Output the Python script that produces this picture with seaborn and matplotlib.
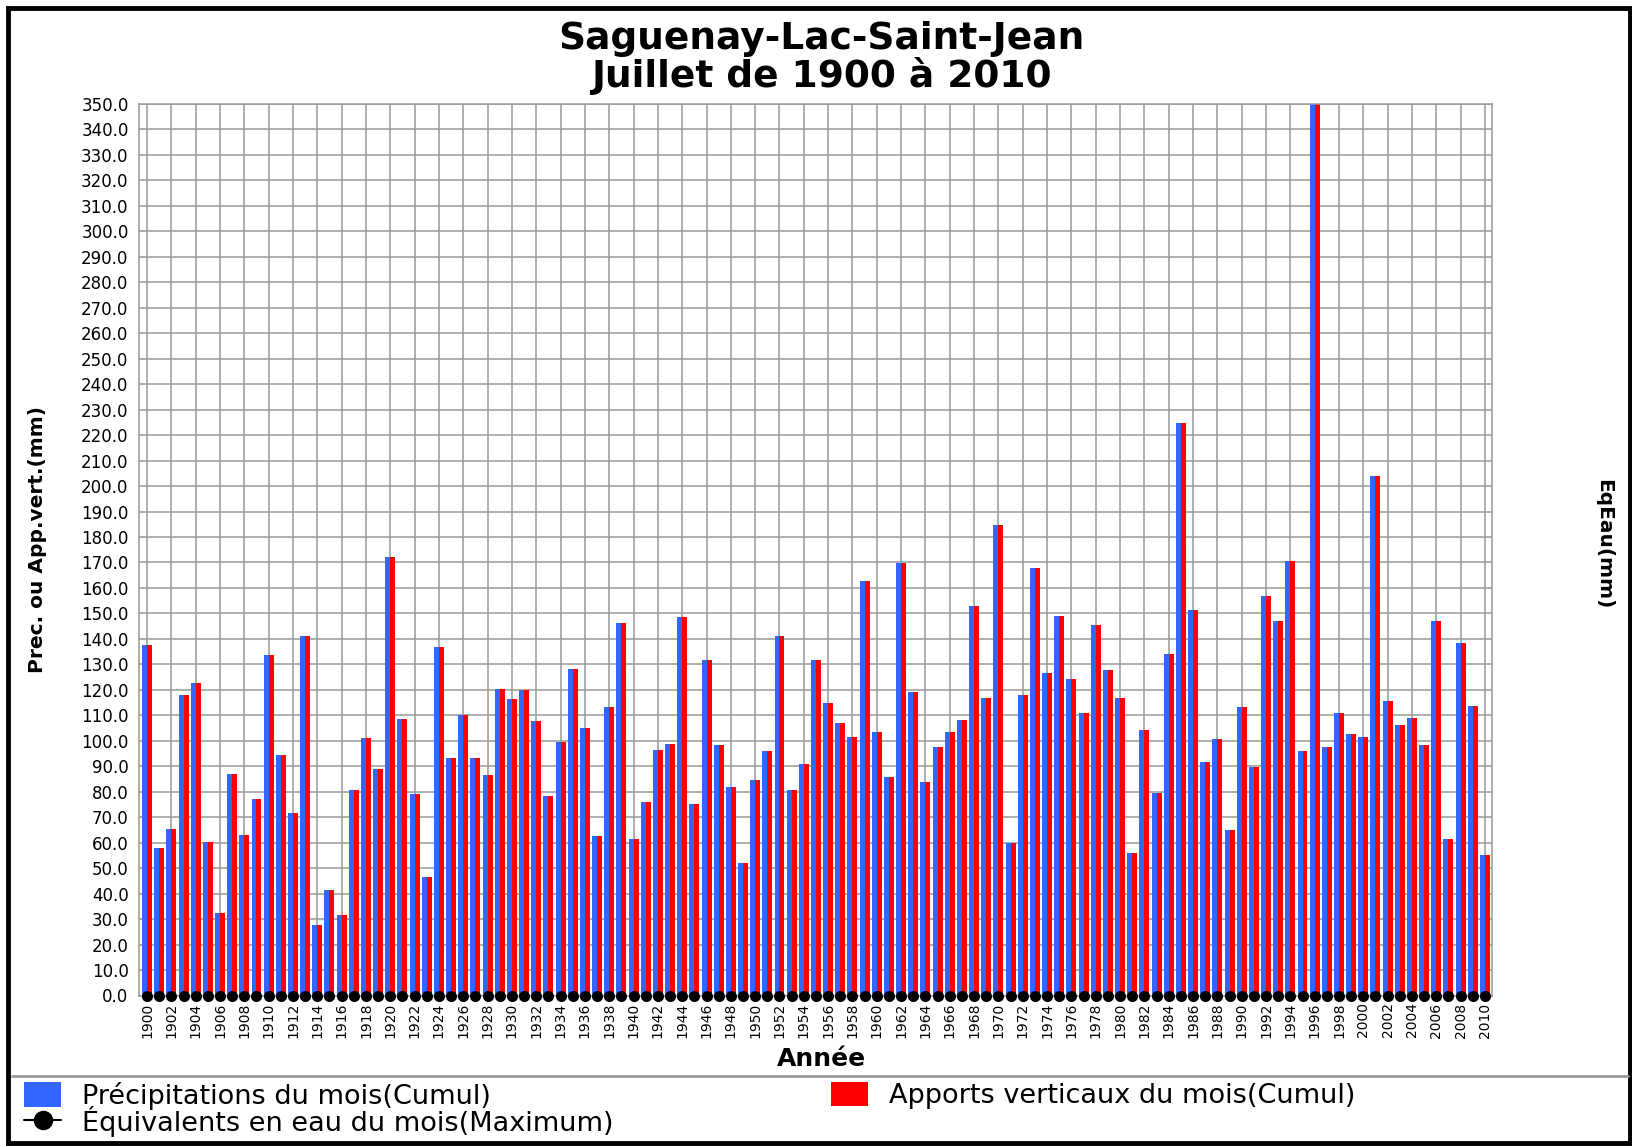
import matplotlib
matplotlib.use("Agg")
import matplotlib.pyplot as plt
from matplotlib.patches import Patch, Rectangle
from matplotlib.lines import Line2D
from matplotlib.ticker import StrMethodFormatter
import seaborn as sns
import pandas as pd

# ---------------- data ----------------
years = [str(y) for y in range(1900, 2011)]

precip = [
    137.5, 58.1, 65.5, 117.8, 122.5, 60.4, 32.5, 86.8, 63.2, 77.3,
    133.6, 94.6, 71.8, 141.0, 27.8, 41.5, 31.7, 80.5, 100.9, 89.1,
    172.1, 108.4, 79.3, 46.7, 136.7, 93.1, 110.0, 93.4, 86.4, 120.2,
    116.3, 119.8, 107.6, 78.5, 99.7, 128.0, 105.2, 62.8, 113.1, 146.1,
    61.6, 75.8, 96.2, 98.6, 148.5, 75.0, 131.6, 98.2, 82.0, 52.2,
    84.8, 95.8, 141.0, 80.5, 90.7, 131.6, 115.0, 107.1, 101.6, 162.9,
    103.5, 85.9, 169.7, 119.3, 83.9, 97.6, 103.5, 108.3, 153.1, 116.9,
    184.6, 59.9, 118.1, 167.7, 126.8, 149.1, 124.4, 111.1, 145.6, 127.6,
    116.9, 56.0, 104.3, 79.6, 134.2, 224.7, 151.5, 91.8, 100.8, 65.0,
    113.3, 89.7, 156.7, 146.9, 170.5, 96.1, 355.0, 97.6, 111.1, 102.7,
    101.6, 203.9, 115.7, 106.3, 109.0, 98.4, 146.9, 61.5, 138.2, 113.8,
    55.2,
]
# Vertical inputs read identical to precipitation in the picture
apports = list(precip)
# Water equivalent maximum: all zero
eq_eau = [0.0] * len(years)

lbl_precip = "Précipitations du mois(Cumul)"
lbl_apports = "Apports verticaux du mois(Cumul)"
lbl_eq = "Équivalents en eau du mois(Maximum)"

BLUE = "#3366FF"
RED = "#FF0000"
GRID = "#999999"

# ---------------- figure ----------------
sns.set_style("white")
plt.rcParams["font.family"] = ["DejaVu Sans"]
plt.rcParams["text.color"] = "black"
plt.rcParams["xtick.labelcolor"] = "black"
plt.rcParams["ytick.labelcolor"] = "black"

W, H = 1633, 1146
fig = plt.figure(figsize=(W / 100, H / 100), dpi=100)
ax = fig.add_axes([139 / W, 1 - 995.5 / H, (1492 - 139) / W, (995.5 - 104) / H])

df = pd.DataFrame({
    "year": years + years,
    "value": precip + apports,
    "series": [lbl_precip] * len(years) + [lbl_apports] * len(years),
})

sns.barplot(data=df, x="year", y="value", hue="series",
            hue_order=[lbl_precip, lbl_apports], palette=[BLUE, RED],
            saturation=1, width=0.82, gap=0, errorbar=None,
            linewidth=0, edgecolor="none", legend=False, ax=ax)

sns.stripplot(x=years, y=eq_eau, jitter=False, color="black", size=8,
              linewidth=0, zorder=5, clip_on=False, ax=ax)

ax.set_xlim(-0.66, 110.58)
ax.set_ylim(0, 350)
ax.set_xticks(range(0, len(years), 2))
ax.set_xticklabels(years[::2], rotation=90, fontsize=10)
ax.set_yticks(range(0, 351, 10))
ax.yaxis.set_major_formatter(StrMethodFormatter("{x:.1f}"))
ax.tick_params(axis="y", labelsize=12, length=4.5, width=1, color=GRID, pad=3)
ax.tick_params(axis="x", length=0, pad=5)
ax.set_xlabel("")
ax.set_ylabel("")
ax.grid(True, color=GRID, linewidth=1.1)
ax.set_axisbelow(True)
for s in ax.spines.values():
    s.set_visible(True)
    s.set_color(GRID)
    s.set_linewidth(1.1)

# ---------------- texts ----------------
fig.text(821 / W, 1 - 49 / H, "Saguenay-Lac-Saint-Jean", ha="center", va="baseline",
         fontsize=27, fontweight="bold")
fig.text(821 / W, 1 - 87 / H, "Juillet de 1900 à 2010", ha="center", va="baseline",
         fontsize=27, fontweight="bold")
fig.text(821 / W, 1 - 1066 / H, "Année", ha="center", va="baseline",
         fontsize=18, fontweight="bold")
fig.text(38 / W, 1 - 539 / H, "Prec. ou App.vert.(mm)", rotation=90, ha="center",
         va="center", fontsize=14.5, fontweight="bold")
fig.text(1604 / W, 1 - 544 / H, "EqEau(mm)", rotation=270, ha="center",
         va="center", fontsize=14.5, fontweight="bold")

# ---------------- legends ----------------
h_blue = Patch(facecolor=BLUE, edgecolor="none", label=lbl_precip)
h_red = Patch(facecolor=RED, edgecolor="none", label=lbl_apports)
h_eq = Line2D([], [], color="black", marker="o", markersize=13, linewidth=1.5, label=lbl_eq)

leg_kw = dict(frameon=False, fontsize=19.5, handlelength=1.37, handleheight=1.04,
              handletextpad=0.78, labelspacing=-0.12, borderpad=0, borderaxespad=0,
              loc="upper left")
fig.legend(handles=[h_blue, h_eq], bbox_to_anchor=(24 / W, 1 - 1081.5 / H), **leg_kw)
fig.legend(handles=[h_red], bbox_to_anchor=(831 / W, 1 - 1081.5 / H), **leg_kw)

# ---------------- frame ----------------
fig.patches.append(Rectangle((8 / W, 1 - 1143 / H), (1630 - 8) / W, (1143 - 8) / H,
                             transform=fig.transFigure, fill=False,
                             edgecolor="black", linewidth=3.5))
fig.lines.append(Line2D([12 / W, 1628 / W], [1 - 1076 / H, 1 - 1076 / H],
                        transform=fig.transFigure, color=GRID, linewidth=2))

fig.savefig("out.png", dpi=100)
